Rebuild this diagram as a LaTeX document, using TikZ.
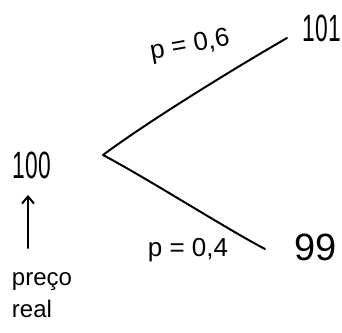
\documentclass[tikz,border=0pt]{standalone}
\usepackage{fontspec}
\setmainfont{Liberation Sans}
\usepackage{graphicx}
\usetikzlibrary{arrows.meta}
\newcommand\narrow[1]{\scalebox{0.6}[1]{#1}}
\begin{document}
\begin{tikzpicture}[x=1pt,y=-1pt,
  stroke/.style={line width=2pt, line cap=round, line join=round},
  num/.style={inner sep=0pt, font=\fontsize{38}{40}\selectfont},
  prob/.style={inner sep=0pt, font=\fontsize{26}{30}\selectfont},
  note/.style={inner sep=0pt, font=\fontsize{24}{32}\selectfont, align=left}]
\useasboundingbox (0,0) rectangle (342,332);
\node[num] (start) at (32,165) {\narrow{100}};
\node[num] (up) at (322,28) {\narrow{101}};
\node[num] (down) at (316,247) {99};
\coordinate (v) at (103,155);
\coordinate (ue) at (287,38);
\coordinate (de) at (265,249);
\draw[stroke] (ue) .. controls (240,65) and (150,120) .. (v)
  .. controls (150,180) and (225,228) .. (de);
\node[prob, rotate=10] (pu) at (190,46) {p = 0,6};
\node[prob] (pd) at (188,250) {p = 0,4};
\node[note] (lbl) at (42,295) {preço\\real};
\coordinate (ab) at (28,248);
\coordinate (at) at (28,195);
\draw[stroke, -{Straight Barb[length=7pt,width=12pt]}] (ab) -- (at);
\end{tikzpicture}
\end{document}
